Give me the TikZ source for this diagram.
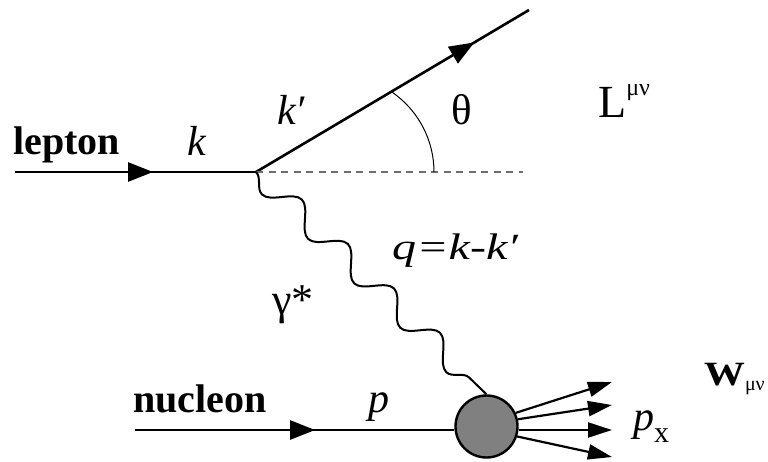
\documentclass[tikz,border=0pt]{standalone}
\usepackage{fontspec}
\usepackage{graphicx}
\setmainfont{Liberation Serif}
\usetikzlibrary{arrows.meta,decorations.pathmorphing,decorations.markings}
\definecolor{blobgray}{RGB}{128,128,128}
\definecolor{dashgray}{RGB}{110,110,110}
\newcommand{\fs}[1]{\fontsize{#1}{#1}\selectfont}
\begin{document}
\begin{tikzpicture}[x=1pt,y=1pt,
  fline/.style={line width=2.6pt},
  oline/.style={line width=2.2pt,-{Triangle[length=24pt,width=15pt]}},
  midarrow/.style={postaction={decorate},decoration={markings,mark=at position #1 with {\arrow{Triangle[length=25pt,width=19pt]}}}},
  lbl/.style={inner sep=0pt,anchor=base west},
]
\useasboundingbox (0,0) rectangle (768,461);
% coordinates
\coordinate (L0) at (15,289);
\coordinate (V) at (256,289);
\coordinate (E) at (529,451);
\coordinate (D) at (523,289);
\coordinate (A0) at (434,289);
\coordinate (N0) at (135,31);
\coordinate (T1) at (612,79);
\coordinate (T2) at (612,56);
\coordinate (T3) at (612,31);
\coordinate (T4) at (612,4);
\node[circle,draw,line width=2.4pt,fill=blobgray,minimum size=62pt,inner sep=0pt] (blob) at (486.5,34.5) {};
% lepton lines
\draw[fline,midarrow=0.573] (L0) -- (V);
\draw[fline,midarrow=0.8] (V) -- (E);
\draw[dashgray,line width=1.5pt,dash pattern=on 7pt off 5.5pt] (V) -- (D);
\draw[line width=1pt] (A0) arc[start angle=0,end angle=55.5,radius=97pt];
% photon
\draw[line width=2pt,decorate,decoration={snake,segment length=64pt,amplitude=12pt,mirror}] (V) -- (blob.north);
% nucleon
\draw[fline,midarrow=0.564] (N0) -- (N0 -| blob.west);
% outgoing hadrons
\draw[oline] (blob.25) -- (T1);
\draw[oline] (blob.13) -- (T2);
\draw[oline] (N0 -| blob.east) -- (T3);
\draw[oline] (blob.-18) -- (T4);
% labels
\node[lbl,font=\fs{40}\bfseries] (lep) at (13,306) {lepton};
\node[lbl,font=\fs{42}\itshape] (klab) at (187,305) {k};
\node[lbl,font=\fs{42}\itshape] (kplab) at (277,336) {k′};
\node[lbl,font=\fs{43}] (th) at (451,336) {θ};
\node[lbl,font=\fs{46}] (Lmn) at (598,343) {L\raisebox{22pt}{\fs{24}μν}};
\node[lbl,font=\fs{37}\itshape] (qlab) at (392,201) {\scalebox{1.3}[1]{q=k-k′}};
\node[lbl,font=\fs{44}] (gam) at (272,147) {γ*};
\node[lbl,font=\fs{40}\bfseries] (nuc) at (133,49) {nucleon};
\node[lbl,font=\fs{42}\itshape] (plab) at (368,49) {p};
\node[lbl,font=\fs{42}\itshape] (px) at (633,31) {p\raisebox{-12pt}{\upshape\fs{30}x}};
\node[lbl,font=\fs{34}] (Wmn) at (704,76) {\scalebox{1.2}[1]{\bfseries W}\raisebox{-5pt}{\fs{20}μν}};
\end{tikzpicture}
\end{document}
